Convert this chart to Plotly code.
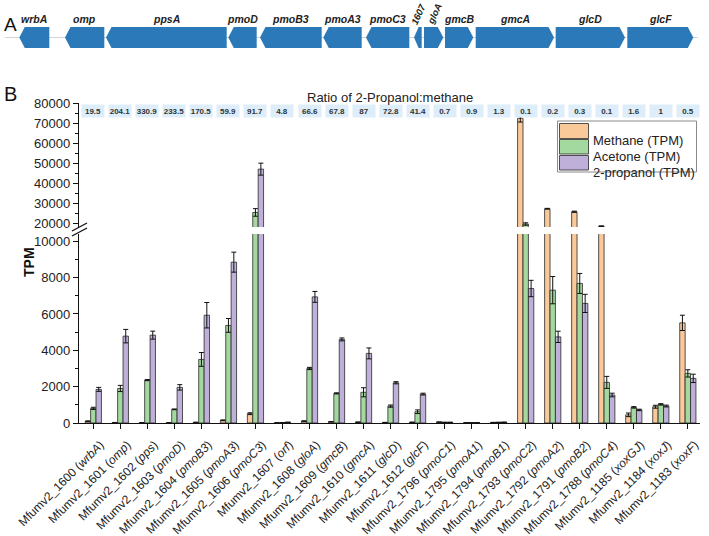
import plotly.graph_objects as go

# ---------------- data ----------------
locus = ["1600", "1601", "1602", "1603", "1604", "1605", "1606", "1607", "1608", "1609",
         "1610", "1611", "1612", "1796", "1795", "1794", "1793", "1792", "1791", "1788",
         "1185", "1184", "1183"]
gene_names = ["wrbA", "omp", "pps", "pmoD", "pmoB3", "pmoA3", "pmoC3", "orf", "gloA", "gmcB",
              "gmcA", "glcD", "glcF", "pmoC1", "pmoA1", "pmoB1", "pmoC2", "pmoA2", "pmoB2", "pmoC4",
              "xoxGJ", "xoxJ", "xoxF"]
methane = [94.9, 23.4, 14.6, 8.4, 34.8, 147.7, 512.5, 7.9, 104.2, 67.8,
           44, 30.4, 38.4, 50, 14.4, 30.8, 72500, 27150, 25650, 18400,
           450, 895, 5510]
acetone = [805, 1900, 2360, 750, 3500, 5370, 25300, 15, 3000, 1630,
           1690, 930, 620, 35, 10, 35, 19500, 7310, 7680, 2235,
           860, 1025, 2730]
propanol = [1850, 4780, 4835, 1960, 5930, 8850, 47000, 38, 6940, 4600,
            3830, 2215, 1590, 35, 13, 40, 7400, 4740, 6580, 1540,
            720, 935, 2455]
err_methane = [20, 5, 3, 2, 5, 20, 50, 2, 15, 10,
               8, 5, 5, 5, 3, 4, 1900, 200, 300, 150,
               100, 80, 420]
err_acetone = [60, 170, 30, 20, 380, 380, 1900, 3, 60, 30,
               250, 60, 100, 5, 3, 4, 600, 750, 550, 330,
               40, 40, 200]
err_propanol = [110, 370, 220, 150, 700, 550, 3000, 5, 300, 80,
                300, 60, 50, 5, 3, 4, 450, 310, 500, 100,
                40, 50, 230]
ratio = ["19.5", "204.1", "330.9", "233.5", "170.5", "59.9", "91.7", "4.8", "66.6", "67.8",
         "87", "72.8", "41.4", "0.7", "0.9", "1.3", "0.1", "0.2", "0.3", "0.1",
         "1.6", "1", "0.5"]

# gene map (panel A), coordinates in bp
map_genes = ["wrbA", "omp", "ppsA", "pmoD", "pmoB3", "pmoA3", "pmoC3", "1607", "gloA", "gmcB",
             "gmcA", "glcD", "glcF"]
map_start = [386, 1300, 2120, 4566, 5200, 6466, 7320, 8280, 8480, 8900, 9514, 11114, 12546]
map_end = [986, 2086, 4534, 5134, 6434, 7234, 8186, 8434, 8866, 9466, 11080, 12500, 13866]
map_strand = [-1, -1, -1, -1, -1, -1, -1, -1, 1, 1, 1, 1, 1]
map_extent = [100, 13960]

series_names = ["Methane (TPM)", "Acetone (TPM)", "2-propanol (TPM)"]
colors = ["#F9C99A", "#A3D99E", "#BEB0D8"]

# ---------------- figure ----------------
W, H = 709, 536
FONT = "Liberation Sans, Arial, sans-serif"


def px(x):
    return x / W


def py(y):
    return 1 - y / H


fig = go.Figure()
xs = list(range(len(locus)))
series = [(methane, err_methane), (acetone, err_acetone), (propanol, err_propanol)]
for yax in ["y", "y2"]:
    for (vals, errs), name, col in zip(series, series_names, colors):
        fig.add_trace(go.Bar(
            x=xs, y=vals, name=name, xaxis="x", yaxis=yax, showlegend=False,
            marker=dict(color=col, line=dict(color="#2a2a2a", width=0.8)),
            error_y=dict(type="data", array=errs, color="#111", thickness=1, width=2.5),
        ))

# gene map backbone
fig.add_trace(go.Scatter(x=map_extent, y=[0, 0], xaxis="x3", yaxis="y3", mode="lines",
                         line=dict(color="#d4d4d4", width=1.2), showlegend=False,
                         hoverinfo="skip"))
# gene arrows
for g, s, e, st in zip(map_genes, map_start, map_end, map_strand):
    tip = min(110, 0.6 * (e - s))
    if st < 0:
        gx = [s, s + tip, e, e, s + tip, s]
    else:
        gx = [e, e - tip, s, s, e - tip, e]
    gy = [0, 1, 1, -1, -1, 0]
    fig.add_trace(go.Scatter(x=gx, y=gy, xaxis="x3", yaxis="y3", mode="lines", fill="toself",
                             fillcolor="#2B79B9", line=dict(width=0, color="#2B79B9"),
                             showlegend=False, hoverinfo="skip"))

ticktext = [f"Mfumv2_{l} (<i>{g}</i>)" for l, g in zip(locus, gene_names)]

axis_common = dict(showline=True, linecolor="#111", linewidth=1.3, ticks="outside",
                   ticklen=5, tickwidth=1.2, tickcolor="#111", showgrid=False,
                   zeroline=False, automargin=False)
yfont = dict(family=FONT, size=13, color="#222")

fig.update_layout(
    width=W, height=H, margin=dict(l=0, r=0, t=0, b=0),
    paper_bgcolor="white", plot_bgcolor="white",
    barmode="group", bargap=0.4, bargroupgap=0,
    showlegend=False,
    xaxis=dict(domain=[px(79), px(700)], range=[-0.53, 22.45], anchor="y",
               tickmode="array", tickvals=xs, ticktext=ticktext, tickangle=-45,
               ticklabelshift=7, ticklabelstandoff=4,
               tickfont=dict(family=FONT, size=12, color="#222"), **axis_common),
    yaxis=dict(domain=[py(423), py(234)], range=[0, 10400], anchor="x",
               tickmode="array", tickvals=[0, 2000, 4000, 6000, 8000, 10000],
               tickformat="d",
               minor=dict(tickvals=[1000, 3000, 5000, 7000, 9000], ticks="outside",
                          ticklen=3, tickcolor="#111", tickwidth=1),
               tickfont=yfont, **axis_common),
    yaxis2=dict(domain=[py(227), py(102.7)], range=[18000, 80300], anchor="x",
                tickmode="array", tickvals=[20000, 30000, 40000, 50000, 60000, 70000, 80000],
                tickformat="d",
                minor=dict(tickvals=[25000, 35000, 45000, 55000, 65000, 75000], ticks="outside",
                           ticklen=3, tickcolor="#111", tickwidth=1),
                tickfont=yfont, **axis_common),
    xaxis3=dict(domain=[0, 1], range=[0, W * 20], anchor="y3", visible=False),
    yaxis3=dict(domain=[py(48), py(27)], range=[-1, 1], anchor="x3", visible=False),
)

ann = []
# ratio boxes
for i, r in enumerate(ratio):
    ann.append(dict(x=i, y=py(104), xref="x", yref="paper", text=f"<b>{r}</b>",
                    showarrow=False, bgcolor="#DDEEFA", width=22, height=12, borderpad=0,
                    font=dict(family=FONT, size=8, color="#333")))
ann.append(dict(x=px(389.5), y=py(88), xref="paper", yref="paper",
                text="Ratio of 2-Propanol:methane", showarrow=False,
                font=dict(family=FONT, size=13, color="#222")))
ann.append(dict(x=px(2), y=py(12), xref="paper", yref="paper", text="A", showarrow=False,
                xanchor="left", font=dict(family=FONT, size=19, color="#111")))
ann.append(dict(x=px(2), y=py(81), xref="paper", yref="paper", text="B", showarrow=False,
                xanchor="left", font=dict(family=FONT, size=20, color="#111")))
ann.append(dict(x=px(19), y=py(262), xref="paper", yref="paper", text="<b>TPM</b>",
                showarrow=False, textangle=-90, font=dict(family=FONT, size=14, color="#111")))
# gene labels
for g, s, e in zip(map_genes, map_start, map_end):
    c = (s + e) / 2
    if g in ("1607", "gloA"):
        ann.append(dict(x=c, y=1, xref="x3", yref="y3", text=g, showarrow=False,
                        textangle=-65, yanchor="middle", yshift=13,
                        font=dict(family=FONT, size=9.5, color="#222", weight="bold",
                                  style="italic")))
    else:
        ann.append(dict(x=c, y=1, xref="x3", yref="y3", text=g, showarrow=False,
                        yanchor="bottom", yshift=0,
                        font=dict(family=FONT, size=10.5, color="#222", weight="bold",
                                  style="italic")))

# legend (manual)
shapes = []
shapes.append(dict(type="rect", xref="paper", yref="paper", x0=px(557.5), x1=px(696.5),
                   y0=py(172), y1=py(121), line=dict(color="#8a8a8a", width=1),
                   fillcolor="white"))
rows = [(123.5, 138.5), (139.5, 154), (155.5, 170)]
for (t, b), name, col in zip(rows, series_names, colors):
    shapes.append(dict(type="rect", xref="paper", yref="paper", x0=px(559.5), x1=px(588.5),
                       y0=py(b), y1=py(t), line=dict(color="#2a2a2a", width=0.8),
                       fillcolor=col))
    ann.append(dict(x=px(591), y=py((t + b) / 2), xref="paper", yref="paper", text=name,
                    showarrow=False, xanchor="left",
                    font=dict(family=FONT, size=13, color="#222")))
# axis break marks
for dy in (0, -5):
    shapes.append(dict(type="line", xref="paper", yref="paper", x0=px(72), y0=py(236 + dy),
                       x1=px(87), y1=py(228 + dy), line=dict(color="#111", width=1.2)))

fig.update_layout(annotations=ann, shapes=shapes)
fig.write_html("out.html")
